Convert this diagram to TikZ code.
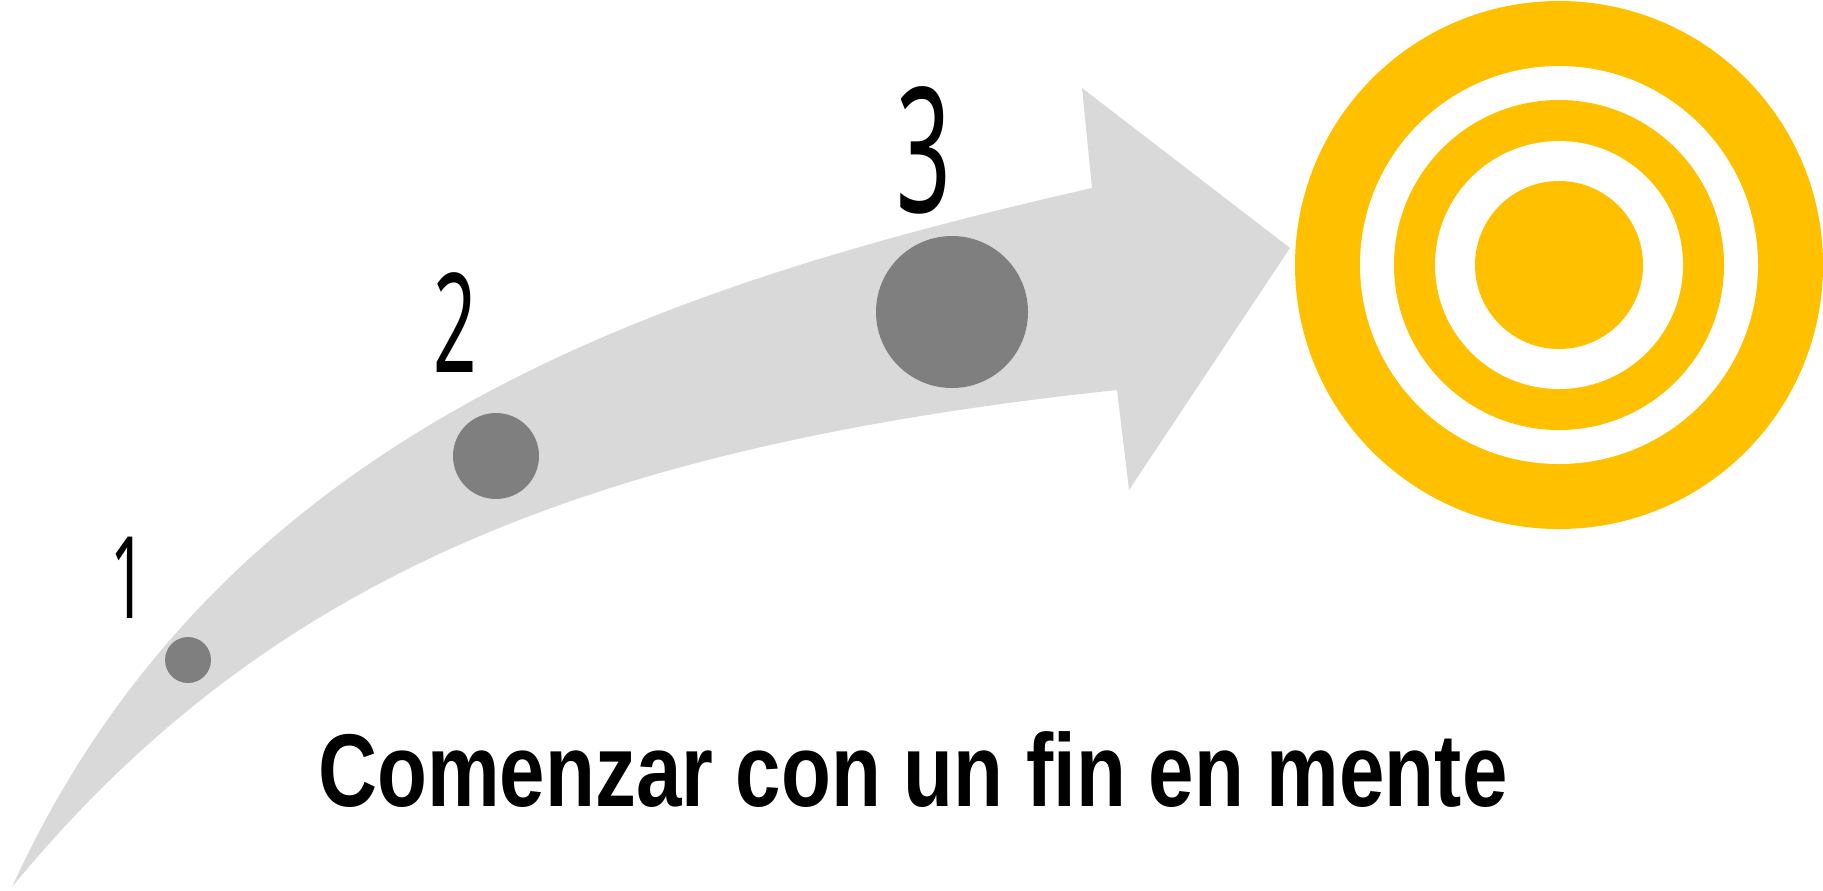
\documentclass[tikz,border=0pt]{standalone}
\usepackage{fontspec}
\usepackage{tikz}
\newfontfamily\titlefont[FakeStretch=0.79]{Liberation Sans}
\newfontfamily\digitfont[FakeStretch=0.55]{Noto Sans}
\definecolor{arrowgray}{HTML}{D9D9D9}
\definecolor{dotgray}{HTML}{7F7F7F}
\definecolor{targetyellow}{HTML}{FFC000}

\begin{document}
\begin{tikzpicture}[x=0.5pt,y=-0.5pt]
		\def\outerring{(1559,265) circle (264)}
		\def\outergap{(1559,265) circle (199)}
		\def\innerring{(1559,265) circle (165)}
		\def\innergap{(1559,265) circle (124)}
		\def\bullseye{(1559,265) circle (84)}
		\useasboundingbox (0,0) rectangle (1823,890);
		\fill[arrowgray] (12,887) .. controls (220,432) and (653,288) .. (1092,188)
			-- (1082,88) -- (1290,248) -- (1129,490) -- (1117,390)
			.. controls (590,446) and (266,578) .. (12,887) -- cycle;
		\fill[dotgray] (188,660) circle (23);
		\fill[dotgray] (496,456) circle (43);
		\fill[dotgray] (952,312) circle (76);
		\node[anchor=base, inner sep=0] (one) at (128,618) {\digitfont\fontsize{57}{57}\selectfont 1};
		\node[anchor=base, inner sep=0] (two) at (455,372) {\digitfont\fontsize{69}{69}\selectfont 2};
		\node[anchor=base, inner sep=0] (three) at (924,212) {\digitfont\fontsize{87}{87}\selectfont 3};
		\fill[targetyellow] \outerring;
		\fill[white] \outergap;
		\fill[targetyellow] \innerring;
		\fill[white] \innergap;
		\fill[targetyellow] \bullseye;
		\node[anchor=base west, inner sep=0] (motto) at (318,806) {\titlefont\bfseries\fontsize{51.7}{52}\selectfont Comenzar con un fin en mente};
	\end{tikzpicture}
\end{document}
